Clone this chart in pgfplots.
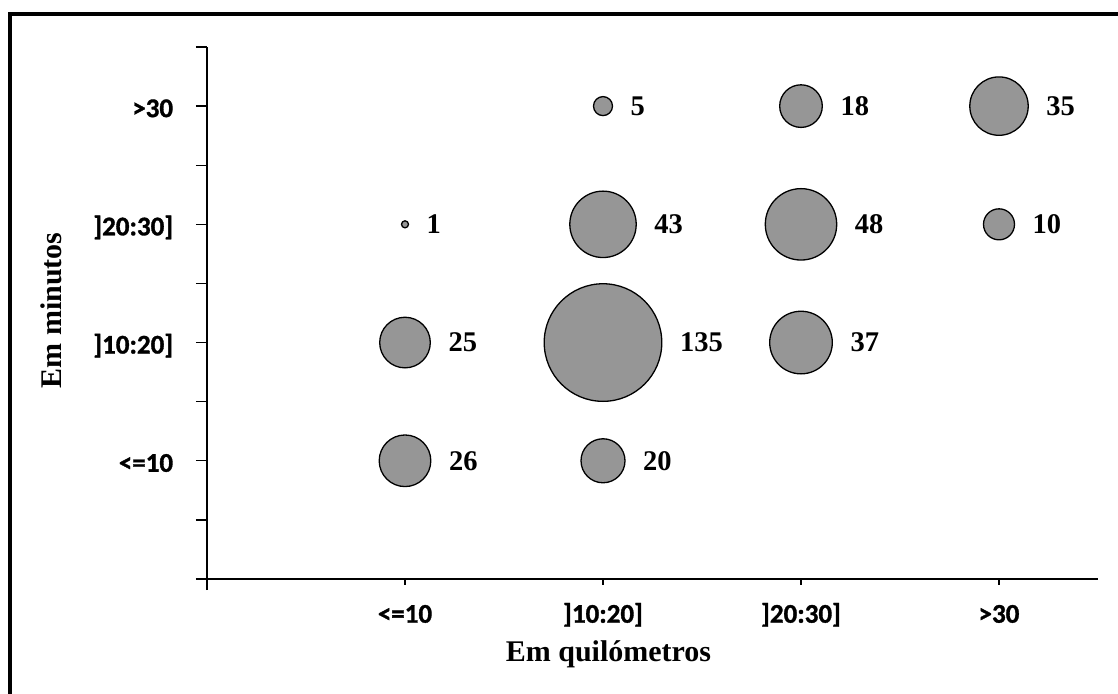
\documentclass[border=0pt]{standalone}
\usepackage{fontspec}
\setmainfont{Liberation Serif}
\newfontfamily\calibrib{Carlito Bold}[FakeBold=1.2]
\usepackage{pgfplots}
\pgfplotsset{compat=1.18}
\definecolor{bub}{RGB}{150,150,150}
\pgfplotstableread{
x y v r
1 1 26 25.8
2 1 20 22.0
1 2 25 25.3
2 2 135 58.8
3 2 37 31.3
1 3 1 3.5
2 3 43 33.2
3 3 48 35.7
4 3 10 15.5
2 4 5 9.5
3 4 18 21.3
4 4 35 29.2
}\bubbles
\begin{document}
\begin{tikzpicture}
\useasboundingbox (0,0) rectangle (1118pt,693pt);
\draw[line width=4pt] (9.5pt,-20pt) -- (9.5pt,679pt) -- (1140pt,679pt);
\begin{axis}[
  at={(207pt,114pt)}, anchor=south west,
  scale only axis, width=891pt, height=532pt,
  xmin=0, xmax=4.5, ymin=0, ymax=4.5,
  clip=false,
  axis lines*=left,
  axis line style={line width=1.5pt, black},
  tick align=outside,
  xtick={1,2,3,4},
  xticklabels={{<=10},{]10:20]},{]20:30]},{>30}},
  ytick={1,2,3,4},
  yticklabels={{<=10},{]10:20]},{]20:30]},{>30}},
  minor xtick={0},
  minor ytick={0,0.5,1,1.5,2,2.5,3,3.5,4,4.5},
  major tick length=5.7pt,
  minor tick length=11pt,
  tick style={line width=1.3pt, black},
  xticklabel style={font={\calibrib\fontsize{27}{31}\selectfont}, anchor=base, inner sep=0pt, yshift=-38pt},
  yticklabel style={font={\calibrib\fontsize{27}{31}\selectfont}, anchor=base east, inner sep=0pt, xshift=-28pt, yshift=-11pt},
  xlabel={Em quilómetros},
  xlabel style={at={(rel axis cs:0.4506,-0.15545)}, anchor=base, inner sep=0pt, font=\bfseries\fontsize{30}{34}\selectfont},
  ylabel={Em minutos},
  ylabel style={at={(rel axis cs:-0.16308,0.5047)}, anchor=base, inner sep=0pt, font=\bfseries\fontsize{30}{34}\selectfont},
]
\addplot[scatter, only marks, mark=*, line width=1.3pt,
  point meta=explicit,
  scatter/use mapped color={draw=black, fill=bub},
  visualization depends on={\thisrow{r} \as \rad},
  scatter/@pre marker code/.append style={/tikz/mark size=\rad pt},
] table[x=x, y=y, meta=v] {\bubbles};
\addplot[only marks, mark=none,
  point meta=explicit,
  visualization depends on={\thisrow{r} \as \radl},
  nodes near coords={\pgfmathprintnumber[assume math mode=true]{\pgfplotspointmeta}},
  nodes near coords style={anchor=west, inner sep=0pt, xshift=\radl pt+18pt, text=black, font=\bfseries\fontsize{28.5}{32}\selectfont},
] table[x=x, y=y, meta=v] {\bubbles};
\end{axis}
\end{tikzpicture}
\end{document}
